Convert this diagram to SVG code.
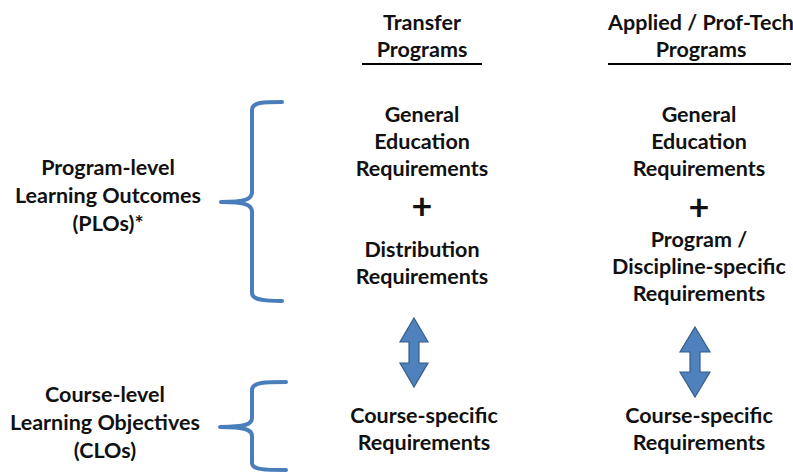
<svg xmlns="http://www.w3.org/2000/svg" width="793" height="473" viewBox="0 0 793 473">
<style>
text{font-family:Lato,"Liberation Sans",sans-serif;font-weight:bold;font-size:21.5px;fill:#111;text-anchor:middle}
.plus{font-size:36px}
.brace{fill:none;stroke:#4a7ebb;stroke-width:4;stroke-linecap:round;stroke-linejoin:round}
.arrow{fill:#4f81bd;stroke:#385d8a;stroke-width:1.2}
.rule{stroke:#000;stroke-width:1.8}
</style>
<rect width="793" height="473" fill="#fff"/>
<g id="header-transfer">
<text x="422" y="30">Transfer</text>
<text x="422" y="57">Programs</text>
<line class="rule" x1="362" y1="64" x2="482" y2="64"/>
</g>
<g id="header-applied">
<text x="701" y="30">Applied / Prof-Tech</text>
<text x="701" y="57">Programs</text>
<line class="rule" x1="608" y1="64" x2="791" y2="64"/>
</g>
<g id="label-plo">
<text x="108" y="175">Program-level</text>
<text x="108" y="203">Learning Outcomes</text>
<text x="108" y="231">(PLOs)*</text>
</g>
<g id="label-clo">
<text x="105" y="402">Course-level</text>
<text x="105" y="430">Learning Objectives</text>
<text x="105" y="458">(CLOs)</text>
</g>
<g id="transfer-program">
<text x="422" y="122">General</text>
<text x="422" y="149">Education</text>
<text x="422" y="176">Requirements</text>
<text class="plus" x="422" y="219">+</text>
<text x="422" y="257">Distribution</text>
<text x="422" y="284">Requirements</text>
</g>
<g id="applied-program">
<text x="699" y="122">General</text>
<text x="699" y="149">Education</text>
<text x="699" y="176">Requirements</text>
<text class="plus" x="699" y="220">+</text>
<text x="699" y="247">Program /</text>
<text x="699" y="274">Discipline-specific</text>
<text x="699" y="301">Requirements</text>
</g>
<g id="transfer-course">
<text x="424" y="423">Course-specific</text>
<text x="424" y="450">Requirements</text>
</g>
<g id="applied-course">
<text x="699" y="423">Course-specific</text>
<text x="699" y="450">Requirements</text>
</g>
<g id="connectors">
<path class="brace" d="M282,102 C264,102 252,102 252,110 L252,192 C252,199 246,202 221,202 C246,202 252,205 252,212 L252,293 C252,300 264,301 282,301"/>
<path class="brace" d="M286,382 C266,382 252,382 252,390 L252,418 C252,424 246,427 220,427 C246,427 252,430 252,436 L252,463 C252,470 266,470 286,470"/>
<path class="arrow" d="M414,318 L428,342 L419,342 L419,363 L428,363 L414,387 L400,363 L409,363 L409,342 L400,342 Z"/>
<path class="arrow" d="M695,327 L710,352 L700,352 L700,372 L710,372 L695,397 L680,372 L690,372 L690,352 L680,352 Z"/>
</g>
</svg>
